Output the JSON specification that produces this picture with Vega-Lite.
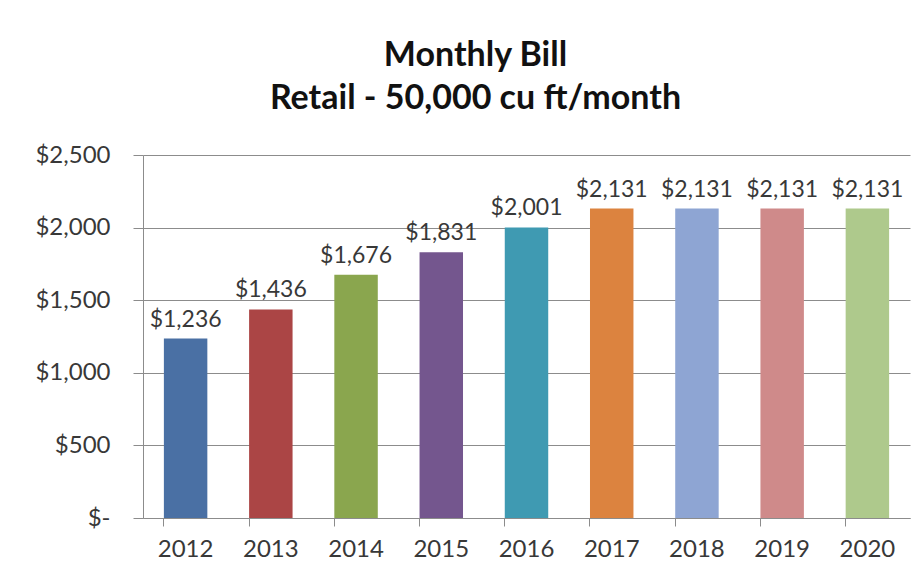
{
  "$schema": "https://vega.github.io/schema/vega-lite/v6.json",
  "autosize": "none",
  "width": 767,
  "height": 363,
  "padding": {"left": 143, "top": 155, "right": 10, "bottom": 62},
  "background": "white",
  "config": {
    "view": {"stroke": null},
    "font": "Lato"
  },
  "title": {
    "text": ["Monthly Bill", "Retail - 50,000 cu ft/month"],
    "font": "Lato",
    "fontSize": 34,
    "fontWeight": "bold",
    "color": "#111111",
    "lineHeight": 43,
    "anchor": "middle",
    "dx": -51,
    "offset": 27
  },
  "data": {
    "values": [
      {"year": "2012", "bill": 1236, "color": "#4a70a4"},
      {"year": "2013", "bill": 1436, "color": "#ab4545"},
      {"year": "2014", "bill": 1676, "color": "#8aa64e"},
      {"year": "2015", "bill": 1831, "color": "#74568e"},
      {"year": "2016", "bill": 2001, "color": "#3f9ab2"},
      {"year": "2017", "bill": 2131, "color": "#dc833f"},
      {"year": "2018", "bill": 2131, "color": "#8ea5d3"},
      {"year": "2019", "bill": 2131, "color": "#cf8a8a"},
      {"year": "2020", "bill": 2131, "color": "#aec98c"}
    ]
  },
  "encoding": {
    "x": {
      "field": "year",
      "type": "nominal",
      "sort": null,
      "scale": {"paddingInner": 0.49, "paddingOuter": 0.245},
      "axis": {
        "title": null,
        "labelAngle": 0,
        "labelFont": "Lato",
        "labelFontSize": 24,
        "labelColor": "#383838",
        "labelPadding": 11,
        "bandPosition": 0,
        "domainColor": "#8c8c8c",
        "tickColor": "#8c8c8c",
        "tickSize": 8,
        "grid": false
      }
    },
    "y": {
      "field": "bill",
      "type": "quantitative",
      "scale": {"domain": [0, 2500], "nice": false},
      "axis": {
        "title": null,
        "values": [0, 500, 1000, 1500, 2000, 2500],
        "labelExpr": "datum.value == 0 ? '$-' : format(datum.value, '$,')",
        "labelFont": "Lato",
        "labelFontSize": 24,
        "labelColor": "#383838",
        "labelPadding": 23,
        "tickSize": 10,
        "tickColor": "#8c8c8c",
        "domainColor": "#8c8c8c",
        "gridColor": "#8c8c8c",
        "gridWidth": 1
      }
    }
  },
  "layer": [
    {
      "mark": {"type": "bar"},
      "encoding": {
        "color": {"field": "color", "type": "nominal", "scale": null, "legend": null}
      }
    },
    {
      "mark": {"type": "text", "baseline": "bottom", "dy": -7, "font": "Lato", "fontSize": 23, "color": "#383838"},
      "encoding": {
        "text": {"field": "bill", "type": "quantitative", "format": "$,"}
      }
    }
  ]
}
